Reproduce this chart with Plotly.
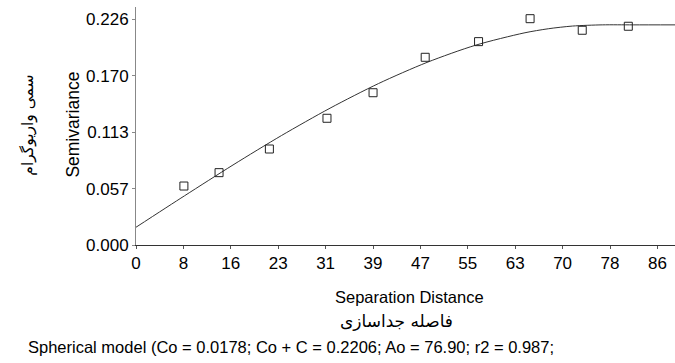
import plotly.graph_objects as go

# Observed semivariance points (lag distance, semivariance)
lag_distance = [7.9, 13.7, 22.0, 31.5, 39.1, 47.7, 56.5, 65.0, 73.6, 81.2]
semivariance = [0.0591, 0.0725, 0.0962, 0.1270, 0.1526, 0.1881, 0.2038, 0.2268, 0.2152, 0.2192]

# Fitted spherical model curve
model_distance = [0, 8, 16, 24, 32, 40, 48, 56, 64, 68, 72, 76.9, 82, 88.9]
model_value = [0.0178, 0.0493, 0.0802, 0.1097, 0.1371, 0.1618, 0.1830, 0.2002, 0.2125, 0.2167, 0.2194, 0.2206, 0.2206, 0.2206]

x_tick_values = [k * 86.0 / 11 for k in range(12)]
x_tick_labels = ["0", "8", "16", "23", "31", "39", "47", "55", "63", "70", "78", "86"]
y_tick_values = [0.0, 0.0565, 0.113, 0.1695, 0.226]
y_tick_labels = ["0.000", "0.057", "0.113", "0.170", "0.226"]

font = "Liberation Sans, Arial, sans-serif"
fa_font = "DejaVu Sans, Noto Sans, sans-serif"

fig = go.Figure()
fig.add_trace(go.Scatter(
    x=model_distance, y=model_value, mode="lines",
    line=dict(color="#333333", width=1, shape="spline", smoothing=0.8),
    hoverinfo="skip", showlegend=False))
fig.add_trace(go.Scatter(
    x=lag_distance, y=semivariance, mode="markers",
    marker=dict(symbol="square-open", size=8, color="#222222", line=dict(width=1)),
    showlegend=False))

fig.update_layout(
    width=675, height=363, autosize=False,
    paper_bgcolor="white", plot_bgcolor="white",
    margin=dict(l=135.5, r=0, t=7, b=118, autoexpand=False),
    font=dict(family=font, size=17, color="black"),
    xaxis=dict(range=[0, 88.9], tickmode="array", tickvals=x_tick_values, ticktext=x_tick_labels,
               showgrid=False, zeroline=False, showline=True, linecolor="#333333", linewidth=1,
               ticks="outside", ticklen=3, tickcolor="#555555", automargin=False,
               tickfont=dict(family=font, size=17)),
    yaxis=dict(range=[0, 0.2385], tickmode="array", tickvals=y_tick_values, ticktext=y_tick_labels,
               showgrid=False, zeroline=False, showline=True, linecolor="#888888", linewidth=1,
               ticks="outside", ticklen=3, tickcolor="#888888", automargin=False,
               tickfont=dict(family=font, size=17)),
)

annotations = [
    dict(text="Separation Distance", x=0.508, y=-0.2185, font=dict(family=font, size=16.5),
         xanchor="center", yanchor="middle"),
    dict(text="فاصله جداسازی", x=0.484, y=-0.319, font=dict(family=fa_font, size=17),
         xanchor="center", yanchor="middle"),
    dict(text="Spherical model (Co = 0.0178; Co + C = 0.2206; Ao = 76.90; r2 = 0.987;",
         x=-0.2048, y=-0.4286, font=dict(family=font, size=16.5), xanchor="left", yanchor="middle"),
    dict(text="Semivariance", x=-0.1177, y=0.504, textangle=-90, font=dict(family=font, size=17.5),
         xanchor="center", yanchor="middle"),
    dict(text="سمی واریوگرام", x=-0.2011, y=0.504, textangle=-90, font=dict(family=fa_font, size=15.5),
         xanchor="center", yanchor="middle"),
]
for a in annotations:
    a.update(xref="paper", yref="paper", showarrow=False)
    fig.add_annotation(**a)

fig.write_html("out.html", config={"displayModeBar": False},
               post_script="document.body.style.margin='0px';document.body.style.overflow='hidden';")
